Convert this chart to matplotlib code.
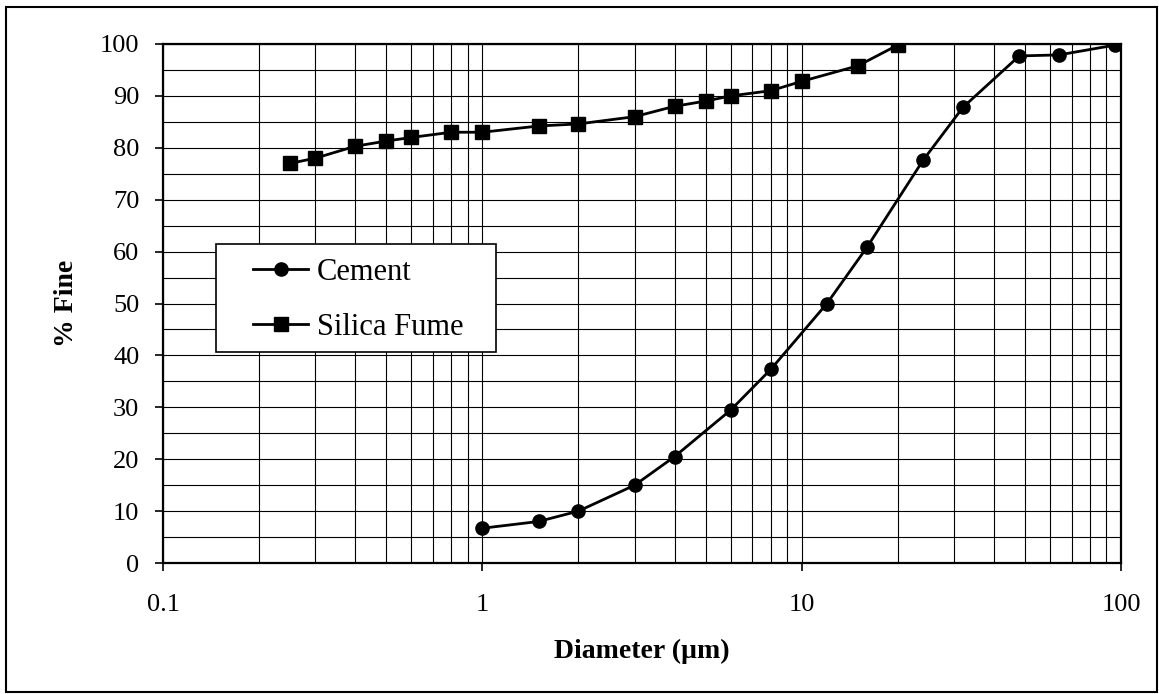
import numpy as np
import matplotlib.pyplot as plt
from matplotlib.patches import Rectangle
from matplotlib.ticker import LogLocator, FixedLocator, NullFormatter

# Datos
cement_d = [1, 1.5, 2, 3, 4, 6, 8, 12, 16, 24, 32, 48, 64, 96]
cement_pct = [6.7, 8.0, 10.0, 15.0, 20.5, 29.5, 37.3, 50.0, 60.8, 77.6, 87.8, 97.7, 97.9, 99.8]

silica_d = [0.25, 0.3, 0.4, 0.5, 0.6, 0.8, 1, 1.5, 2, 3, 4, 5, 6, 8, 10, 15, 20]
silica_pct = [77.0, 78.0, 80.3, 81.3, 82.0, 83.0, 83.0, 84.2, 84.6, 86.0, 88.0, 89.0, 90.0,
              91.0, 92.8, 95.8, 99.8]

x_ticks = [0.1, 1, 10, 100]
x_labels = ["0.1", "1", "10", "100"]
y_ticks = list(range(0, 101, 10))

plt.rcParams['font.family'] = ['Liberation Serif', 'DejaVu Serif']

fig = plt.figure(figsize=(11.59, 6.94), dpi=100)
W, H = 1159, 694
ax = fig.add_axes([163 / W, 1 - 563 / H, (1121 - 163) / W, (563 - 44) / H])

# Marco exterior de la figura
fig.patches.append(Rectangle((6 / W, 2 / H), (1157 - 6) / W, (687 - 2) / H,
                             transform=fig.transFigure, fill=False,
                             edgecolor='black', linewidth=1.5))

ax.plot(cement_d, cement_pct, color='black', linewidth=2.0, marker='o',
        markersize=9.5, label='Cement', zorder=3)
ax.plot(silica_d, silica_pct, color='black', linewidth=2.0, marker='s',
        markersize=9.5, label='Silica Fume', zorder=3)

ax.set_xscale('log')
ax.set_xlim(0.1, 100)
ax.set_ylim(0, 100)

ax.xaxis.set_major_locator(FixedLocator(x_ticks))
ax.set_xticklabels(x_labels)
ax.xaxis.set_minor_locator(LogLocator(base=10, subs=np.arange(2, 10)))
ax.xaxis.set_minor_formatter(NullFormatter())
ax.set_yticks(y_ticks)
ax.set_yticks(range(5, 100, 10), minor=True)

ax.grid(True, which='both', color='black', linewidth=0.8)
ax.tick_params(which='major', direction='out', length=6, width=1.2,
               labelsize=19, color='black')
ax.tick_params(axis='x', which='major', pad=16)
ax.tick_params(axis='y', which='major', pad=11)
ax.tick_params(which='minor', length=0)

for sp in ax.spines.values():
    sp.set_linewidth(1.6)

ax.set_xlabel('Diameter (µm)', fontsize=20, fontweight='bold', labelpad=17)
ax.set_ylabel('% Fine', fontsize=20, fontweight='bold', labelpad=15)

# Recuadro de la leyenda
ax.add_patch(Rectangle(((216 - 163) / 958, (563 - 352) / 519), 280 / 958, 108 / 519,
                       transform=ax.transAxes, facecolor='white', edgecolor='black',
                       linewidth=1.2, zorder=4))
leg = ax.legend(loc='center left', bbox_to_anchor=((253 - 163) / 958, (563 - 300) / 519),
                fontsize=22, frameon=False, handlelength=1.8, handletextpad=0.3,
                borderpad=0, labelspacing=0.85, borderaxespad=0)
leg.set_zorder(5)
for h in leg.legend_handles:
    h.set_markersize(9.5)

fig.savefig('out.png', dpi=100)
